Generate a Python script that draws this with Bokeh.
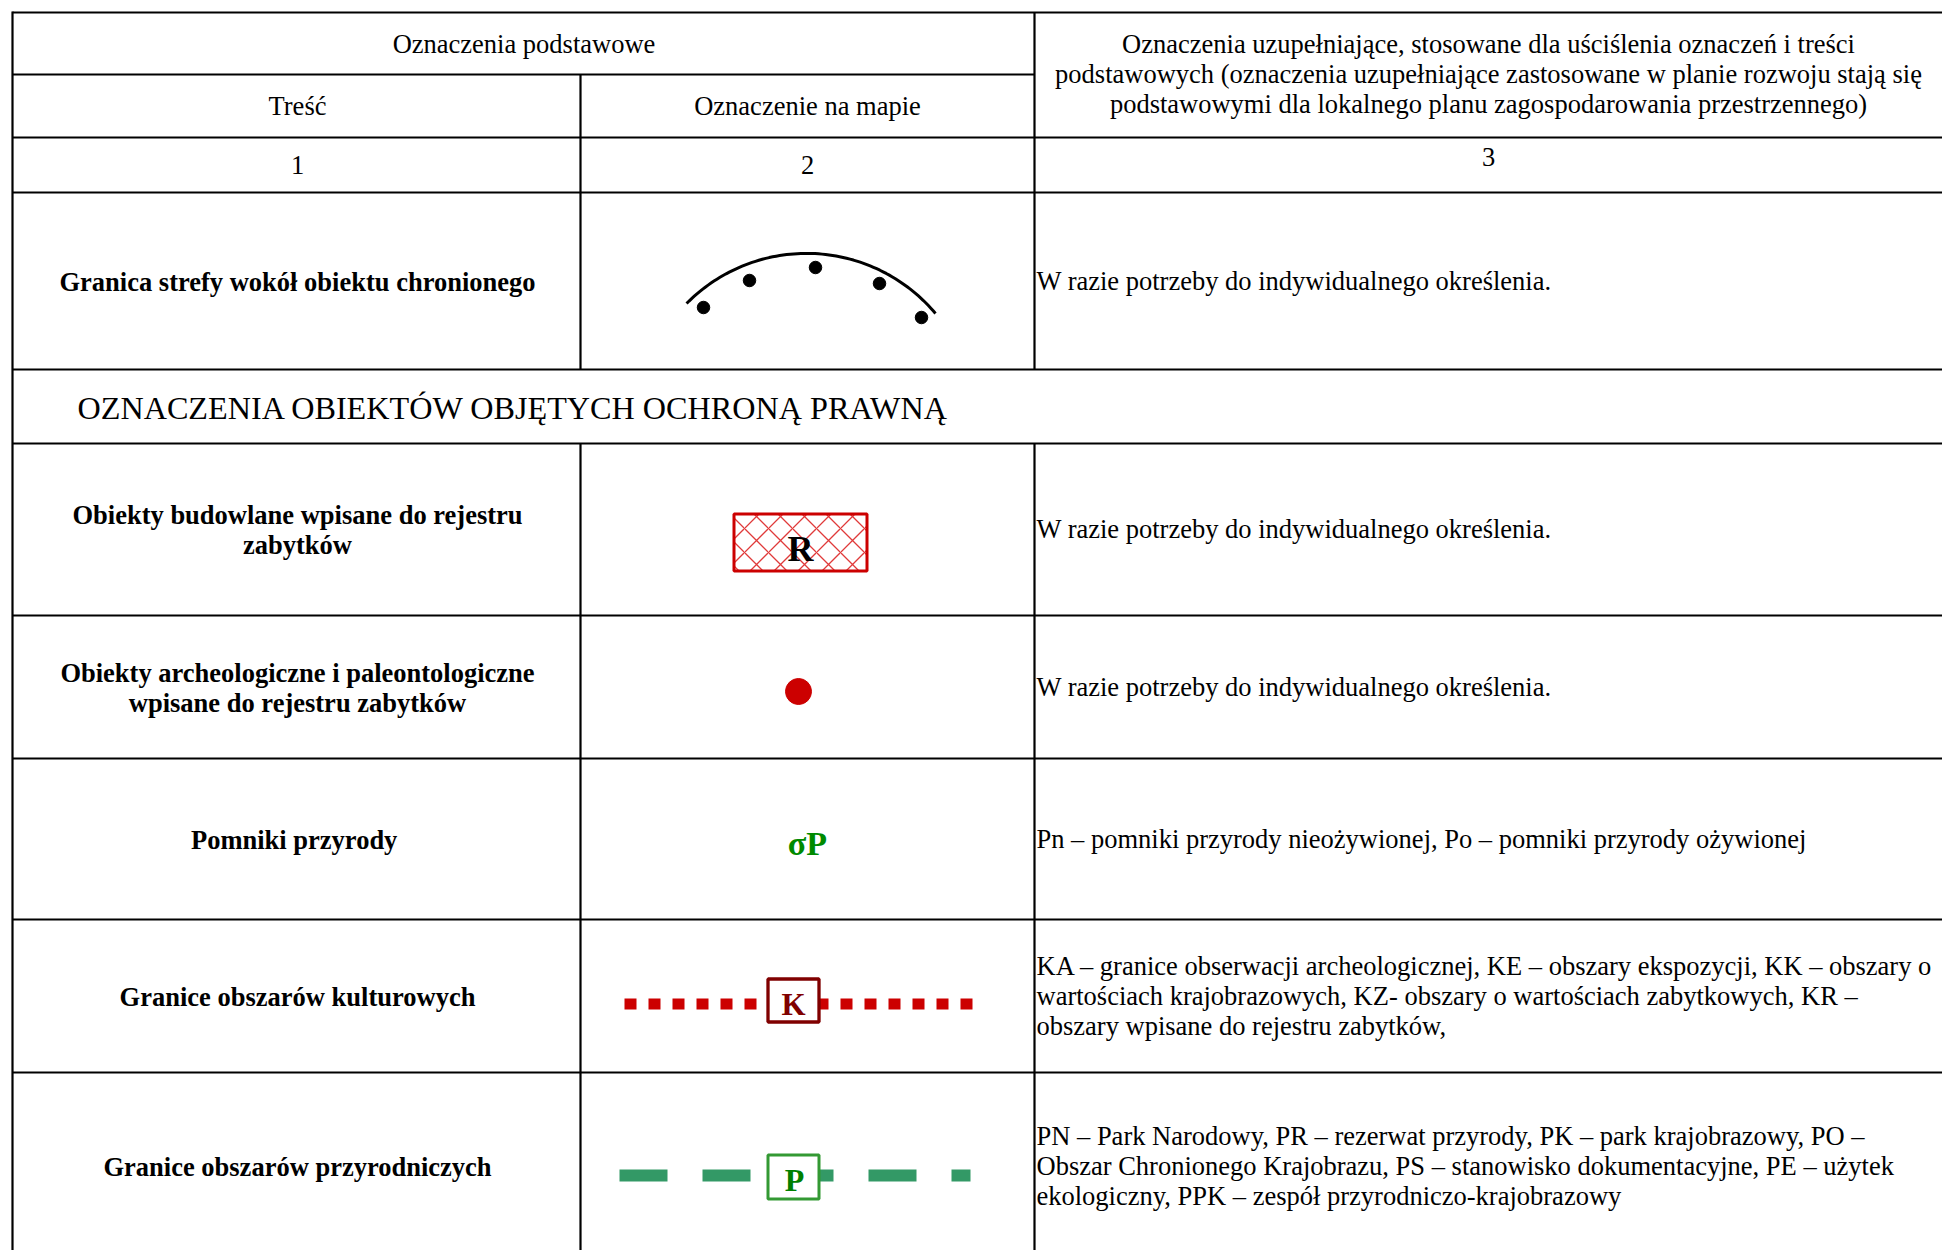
from bokeh.plotting import figure
from bokeh.models import Range1d
from bokeh.core.properties import value
from bokeh.embed import file_html
from bokeh.resources import INLINE
import numpy as np

# ---------------- content ----------------
header_main = "Oznaczenia podstawowe"
header_col1 = "Treść"
header_col2 = "Oznaczenie na mapie"
header_col3 = [
    "Oznaczenia uzupełniające, stosowane dla uściślenia oznaczeń i treści",
    "podstawowych (oznaczenia uzupełniające zastosowane w planie rozwoju stają się",
    "podstawowymi dla lokalnego planu zagospodarowania przestrzennego)",
]
col_numbers = ["1", "2", "3"]
section_title = "OZNACZENIA OBIEKTÓW OBJĘTYCH OCHRONĄ PRAWNĄ"
row_labels = [
    ["Granica strefy wokół obiektu chronionego"],
    ["Obiekty budowlane wpisane do rejestru", "zabytków"],
    ["Obiekty archeologiczne i paleontologiczne", "wpisane do rejestru zabytków"],
    ["Pomniki  przyrody"],
    ["Granice obszarów kulturowych"],
    ["Granice obszarów przyrodniczych"],
]
row_notes = [
    ["W razie potrzeby do indywidualnego określenia."],
    ["W razie potrzeby do indywidualnego określenia."],
    ["W razie potrzeby do indywidualnego określenia."],
    ["Pn – pomniki przyrody nieożywionej, Po – pomniki przyrody ożywionej"],
    ["KA – granice obserwacji archeologicznej, KE – obszary ekspozycji, KK – obszary o",
     "wartościach krajobrazowych, KZ- obszary o wartościach zabytkowych, KR –",
     "obszary wpisane do rejestru zabytków,"],
    ["PN – Park Narodowy, PR – rezerwat przyrody, PK – park krajobrazowy, PO –",
     "Obszar Chronionego Krajobrazu, PS – stanowisko dokumentacyjne, PE – użytek",
     "ekologiczny, PPK – zespół przyrodniczo-krajobrazowy"],
]
symbol_letters = ["R", "σP", "K", "P"]

# ---------------- layout (page pixels) ----------------
W, H = 1942, 1250
OX, OY = 0, 0
X_LEFT, X_C1, X_C2, X_RIGHT = 12, 580, 1034, 1942
Y_TOP, Y_H1, Y_H2, Y_NUM = 12, 74, 137, 192
Y_SEC_TOP, Y_SEC_BOT = 369, 443
row_tops = [192, 443, 615, 758, 919, 1072]
row_bottoms = [369, 615, 758, 919, 1072, 1259]
LH = 30
TDY = -9  # renderer baseline correction
FONT = value("Liberation Serif")
FS = value("26.5px")

def line_ys(top, bottom, n, offset):
    mid = (top + bottom) / 2
    return [mid + offset + TDY + (i - (n - 1) / 2) * LH for i in range(n)]

p = figure(width=W, height=H, x_range=Range1d(OX, OX + W), y_range=Range1d(OY + H, OY),
           output_backend="svg", toolbar_location=None, min_border=0,
           x_axis_location=None, y_axis_location=None, outline_line_color=None,
           background_fill_color="white", border_fill_color="white")
p.grid.visible = False

# ---------------- grid lines ----------------
hx0, hx1, hy = [], [], []
hx0.append(X_LEFT); hx1.append(X_RIGHT); hy.append(Y_TOP)
hx0.append(X_LEFT); hx1.append(X_C2); hy.append(Y_H1)
for yy in [Y_H2, Y_NUM, Y_SEC_TOP, Y_SEC_BOT] + row_bottoms[1:-1]:
    hx0.append(X_LEFT); hx1.append(X_RIGHT); hy.append(yy)
p.segment(x0=hx0, x1=hx1, y0=hy, y1=hy, line_color="black", line_width=2.2)

vx, vy0, vy1 = [], [], []
vx.append(X_LEFT); vy0.append(Y_TOP - 1); vy1.append(row_bottoms[-1])
for xx, start in [(X_C1, Y_H1), (X_C2, Y_TOP)]:
    vx += [xx, xx]; vy0 += [start, Y_SEC_BOT]; vy1 += [Y_SEC_TOP, row_bottoms[-1]]
p.segment(x0=vx, x1=vx, y0=vy0, y1=vy1, line_color="black", line_width=2.2)

# ---------------- header texts ----------------
cx1 = (X_LEFT + X_C1) / 2 + 1
cx2 = (X_C1 + X_C2) / 2
cx3 = (X_C2 + X_RIGHT) / 2
hxs = [(X_LEFT + X_C2) / 2 + 0.5, cx1, cx2]
hys = [line_ys(Y_TOP, Y_H1, 1, 9)[0], line_ys(Y_H1, Y_H2, 1, 9)[0], line_ys(Y_H1, Y_H2, 1, 9)[0]]
htx = [header_main, header_col1, header_col2]
for i, y in enumerate(line_ys(Y_TOP, Y_H2, 3, 8)):
    hxs.append(cx3); hys.append(y); htx.append(header_col3[i])
num_y = line_ys(Y_H2, Y_NUM, 1, 8.5)[0]
hxs += [cx1, cx2, cx3]; hys += [num_y, num_y, num_y - 8]; htx += col_numbers
p.text(x=hxs, y=hys, text=htx, text_font=FONT, text_font_size=FS, text_align="center",
       text_baseline="alphabetic", text_color="black")

# section title
p.text(x=[77], y=[line_ys(Y_SEC_TOP, Y_SEC_BOT, 1, 10)[0]], text=[section_title],
       text_font=FONT, text_font_size=value("32.2px"), text_align="left",
       text_baseline="alphabetic", text_color="black")

# row labels (bold) & notes
lx, ly, lt = [], [], []
nx, ny, nt = [], [], []
for r in range(len(row_labels)):
    for y, t in zip(line_ys(row_tops[r], row_bottoms[r], len(row_labels[r]), 9.5), row_labels[r]):
        lx.append(cx1); ly.append(y); lt.append(t)
    for y, t in zip(line_ys(row_tops[r], row_bottoms[r], len(row_notes[r]), 8.5), row_notes[r]):
        nx.append(X_C2 + 2); ny.append(y); nt.append(t)
p.text(x=lx, y=ly, text=lt, text_font=FONT, text_font_size=FS, text_font_style="bold",
       text_align="center", text_baseline="alphabetic", text_color="black")
p.text(x=nx, y=ny, text=nt, text_font=FONT, text_font_size=FS,
       text_align="left", text_baseline="alphabetic", text_color="black")

# ---------------- symbols ----------------
# 1: arc with dots (circle through end points and top)
arc_cx, arc_cy, arc_r = 806.0, 421.4, 168.5
a0 = np.arctan2(303 - arc_cy, 686 - arc_cx)
a1 = np.arctan2(313 - arc_cy, 935 - arc_cx)
ang = np.linspace(a0, a1 + 2 * np.pi if a1 < a0 else a1, 80)
p.line(x=arc_cx + arc_r * np.cos(ang), y=arc_cy + arc_r * np.sin(ang), line_color="black",
       line_width=3, line_cap="butt")
arc_dots_x = [703, 749, 815, 879, 921]
arc_dots_y = [307, 280, 267, 283, 317]
p.scatter(x=arc_dots_x, y=arc_dots_y, size=12.5, color="black")

# 2: hatched rectangle with R
p.quad(left=733.5, right=866.5, top=513.5, bottom=570.5, fill_color="white",
       line_color="#cc0000", line_width=3, hatch_pattern="diagonal_cross",
       hatch_color="#e03a3a", hatch_scale=24, hatch_weight=1.3)
p.text(x=[800], y=[557 + TDY], text=[symbol_letters[0]], text_font=FONT, text_font_size=value("36px"),
       text_font_style="bold", text_align="center", text_baseline="alphabetic", text_color="black")

# 3: red dot
p.scatter(x=[798], y=[691], size=26, color="#cc0000")

# 4: sigma P
p.text(x=[807], y=[852 + TDY], text=[symbol_letters[1]], text_font=FONT, text_font_size=value("34px"),
       text_font_style="bold", text_align="center", text_baseline="alphabetic", text_color="#008a00")

# 5: dotted red line with K box
p.line(x=[624, 972], y=[1003.5, 1003.5], line_color="#cc0000", line_width=11,
       line_dash="12 12", line_cap="butt")
p.quad(left=767.5, right=818.5, top=978.5, bottom=1021.5, fill_color="white",
       line_color="#800000", line_width=3.3)
p.text(x=[793], y=[1012.7 + TDY], text=[symbol_letters[2]], text_font=FONT, text_font_size=value("31px"),
       text_font_style="bold", text_align="center", text_baseline="alphabetic", text_color="#800000")

# 6: dashed green line with P box
p.line(x=[619, 970], y=[1175, 1175], line_color="#339966", line_width=12,
       line_dash="48 35", line_cap="butt")
p.quad(left=767.5, right=818.5, top=1154.5, bottom=1198.5, fill_color="white",
       line_color="#339933", line_width=3)
p.text(x=[794], y=[1188.3 + TDY], text=[symbol_letters[3]], text_font=FONT, text_font_size=value("32px"),
       text_font_style="bold", text_align="center", text_baseline="alphabetic", text_color="#008000")

open("out.html", "w").write(file_html(p, INLINE))
